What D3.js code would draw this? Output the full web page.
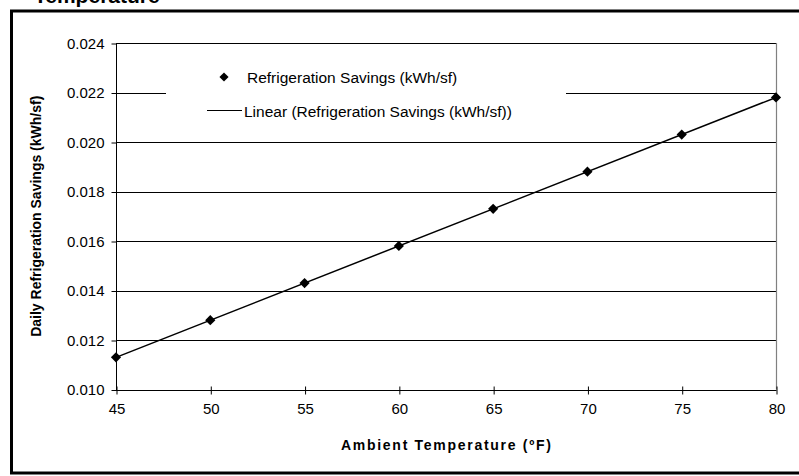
<!DOCTYPE html>
<html>
<head>
<meta charset="utf-8">
<script src="https://cdn.jsdelivr.net/npm/d3@7"></script>
<style>
html,body{margin:0;padding:0;background:#fff;}
svg{display:block;}
text{font-family:"Liberation Sans",Arial,sans-serif;}
</style>
</head>
<body>
<svg id="chart" width="799" height="476"></svg>
<script>
const temperatures = [45, 50, 55, 60, 65, 70, 75, 80];
const savings = [0.0113, 0.0128, 0.0143, 0.0158, 0.0173, 0.0188, 0.0203, 0.0218];
const xTicks = [45, 50, 55, 60, 65, 70, 75, 80];
const yTicks = [0.010, 0.012, 0.014, 0.016, 0.018, 0.020, 0.022, 0.024];
const seriesName = "Refrigeration Savings (kWh/sf)";
const trendName = "Linear (Refrigeration Savings (kWh/sf))";
const xTitle = "Ambient Temperature (ºF)";
const yTitle = "Daily Refrigeration Savings (kWh/sf)";
const cutTitle = "Temperature";

const svg = d3.select("#chart");
const L = 116, R = 776, T = 43, B = 389.5;

const x = d3.scaleLinear().domain([45, 80]).range([L, R]);
const y = d3.scaleLinear().domain([0.010, 0.024]).range([B, T]);

// cropped title at top (cut by the picture edge, as in the reference)
svg.append("text").attr("x", 34).attr("y", 2.5)
  .attr("font-size", 21).attr("font-weight", "bold").text(cutTitle);

// outer frame
svg.append("rect").attr("x", 11.5).attr("y", 11).attr("width", 820).attr("height", 462)
  .attr("fill", "none").attr("stroke", "#000").attr("stroke-width", 3);

// gridlines
svg.append("g").selectAll("line").data(yTicks).join("line")
  .attr("x1", L).attr("x2", R)
  .attr("y1", d => Math.round(y(d)) + 0.5).attr("y2", d => Math.round(y(d)) + 0.5)
  .attr("stroke", "#000").attr("stroke-width", 1);

// plot right border
svg.append("line").attr("x1", R + 0.5).attr("x2", R + 0.5).attr("y1", T).attr("y2", B)
  .attr("stroke", "#808080").attr("stroke-width", 1.2);

// legend background (hides gridline)
const legX = 166, legW = 400, legY = 58, legH = 72;
svg.append("rect").attr("x", legX).attr("y", legY).attr("width", legW).attr("height", legH).attr("fill", "#fff");

// y axis
const yAxis = d3.axisLeft(y).tickValues(yTicks).tickFormat(d3.format(".3f")).tickSize(5).tickPadding(7);
const gy = svg.append("g").attr("transform", `translate(${L + 0.5},0.5)`).call(yAxis);
gy.selectAll("text").attr("font-size", 15).attr("fill", "#000").attr("font-family", "Liberation Sans, Arial, sans-serif");
gy.selectAll("line,path").attr("stroke", "#000");
gy.select(".domain").attr("d", `M0,${T - 0.5}V${B}`);

// x axis
const xAxis = d3.axisBottom(x).tickValues(xTicks).tickFormat(d3.format("d")).tickSize(4).tickPadding(9);
const gx = svg.append("g").attr("transform", `translate(0.5,${Math.round(B) + 0.5})`).call(xAxis);
gx.selectAll("text").attr("font-size", 15).attr("fill", "#000").attr("font-family", "Liberation Sans, Arial, sans-serif");
gx.selectAll("line,path").attr("stroke", "#000");
gx.select(".domain").attr("d", `M${L},0H${R}`);
gx.selectAll(".tick line").attr("y1", -4).attr("y2", 4);

// trendline (least squares)
const mx = d3.mean(temperatures), my = d3.mean(savings);
const slope = d3.sum(temperatures, (t, i) => (t - mx) * (savings[i] - my)) / d3.sum(temperatures, t => (t - mx) ** 2);
const icpt = my - slope * mx;
const trend = d3.extent(temperatures).map(t => [t, icpt + slope * t]);
svg.append("path").datum(trend)
  .attr("d", d3.line().x(d => x(d[0])).y(d => y(d[1])))
  .attr("fill", "none").attr("stroke", "#000").attr("stroke-width", 1.5);

// markers
const diamond = d3.symbol(d3.symbolSquare, 52);
svg.append("g").selectAll("path").data(temperatures).join("path")
  .attr("d", diamond)
  .attr("transform", (t, i) => `translate(${x(t)},${y(savings[i])}) rotate(45)`)
  .attr("fill", "#000");

// legend
svg.append("path").attr("d", d3.symbol(d3.symbolSquare, 42))
  .attr("transform", `translate(224,77) rotate(45)`).attr("fill", "#000");
svg.append("text").attr("x", 247).attr("y", 82.5).attr("font-size", 15.5).text(seriesName);
svg.append("line").attr("x1", 207).attr("x2", 242).attr("y1", 110.5).attr("y2", 110.5)
  .attr("stroke", "#000").attr("stroke-width", 1.2);
svg.append("text").attr("x", 244).attr("y", 116.5).attr("font-size", 15.5).text(trendName);

// axis titles
svg.append("text").attr("x", (L + R) / 2).attr("y", 450).attr("text-anchor", "middle")
  .attr("font-size", 14).attr("font-weight", "bold")
  .attr("textLength", 210).attr("lengthAdjust", "spacing").text(xTitle);
svg.append("text").attr("transform", `translate(41,${(T + B) / 2}) rotate(-90)`)
  .attr("text-anchor", "middle").attr("font-size", 14).attr("font-weight", "bold").text(yTitle);
</script>
</body>
</html>
